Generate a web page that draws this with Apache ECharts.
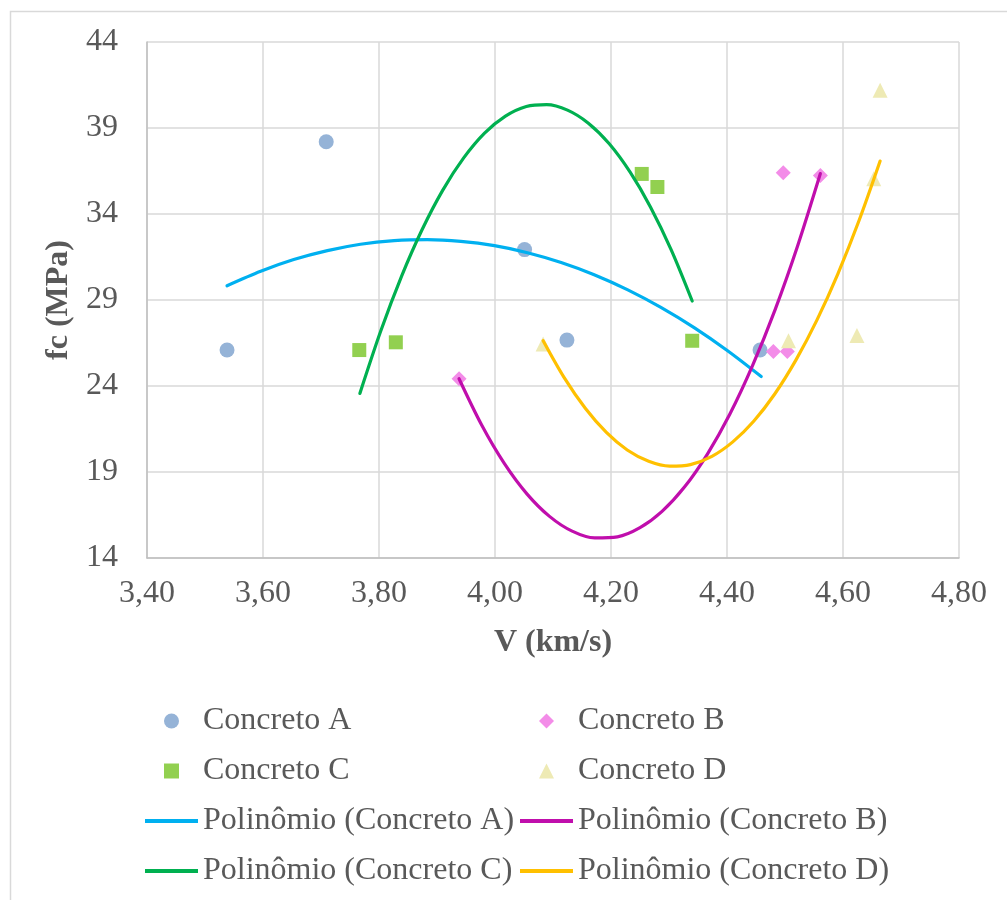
<!DOCTYPE html>
<html>
<head>
<meta charset="utf-8">
<script src="https://cdn.jsdelivr.net/npm/echarts@6/dist/echarts.min.js"></script>
<style>
html,body{margin:0;padding:0;background:#fff;}
#chart{width:1007px;height:900px;}
</style>
</head>
<body>
<div id="chart"></div>
<script>
// ---- Data ----
const xAxisTicks = [3.40, 3.60, 3.80, 4.00, 4.20, 4.40, 4.60, 4.80];
const yAxisTicks = [14, 19, 24, 29, 34, 39, 44];

const concretoA_V  = [3.538, 3.709, 4.051, 4.124, 4.457];
const concretoA_fc = [26.09, 38.20, 31.93, 26.67, 26.09];

const concretoB_V  = [3.938, 4.480, 4.497, 4.504, 4.561];
const concretoB_fc = [24.42, 26.01, 36.40, 26.01, 36.24];

const concretoC_V  = [3.766, 3.829, 4.253, 4.280, 4.340];
const concretoC_fc = [26.09, 26.54, 36.33, 35.57, 26.63];

const concretoD_V  = [4.083, 4.506, 4.624, 4.653, 4.664];
const concretoD_fc = [26.44, 26.63, 26.94, 36.05, 41.19];

// Trend lines
const polyA_V  = [3.538, 3.596, 3.653, 3.711, 3.768, 3.826, 3.883, 3.941, 3.999,
                  4.056, 4.114, 4.171, 4.229, 4.286, 4.344, 4.401, 4.459];
const polyA_fc = [29.83, 30.67, 31.35, 31.87, 32.24, 32.45, 32.51, 32.41, 32.16,
                  31.75, 31.18, 30.47, 29.59, 28.57, 27.38, 26.05, 24.55];

const polyB_V  = [3.938, 3.977, 4.016, 4.055, 4.094, 4.133, 4.172, 4.211, 4.250,
                  4.288, 4.327, 4.366, 4.405, 4.444, 4.483, 4.522, 4.561];
const polyB_fc = [24.42, 21.73, 19.50, 17.73, 16.42, 15.56, 15.17, 15.23, 15.76,
                  16.71, 18.14, 20.03, 22.37, 25.18, 28.44, 32.17, 36.35];

const polyC_V  = [3.767, 3.803, 3.839, 3.874, 3.910, 3.946, 3.982, 4.018, 4.054,
                  4.089, 4.125, 4.161, 4.197, 4.233, 4.268, 4.304, 4.340];
const polyC_fc = [23.57, 27.20, 30.39, 33.07, 35.39, 37.26, 38.70, 39.69, 40.25,
                  40.36, 40.04, 39.28, 38.08, 36.43, 34.41, 31.90, 28.94];

const polyD_V  = [4.083, 4.119, 4.156, 4.192, 4.228, 4.265, 4.301, 4.337, 4.374,
                  4.410, 4.446, 4.482, 4.519, 4.555, 4.591, 4.628, 4.664];
const polyD_fc = [26.63, 24.50, 22.69, 21.30, 20.28, 19.62, 19.34, 19.43, 19.91,
                  20.75, 21.95, 23.52, 25.52, 27.83, 30.51, 33.65, 37.08];

const names = {
  A: 'Concreto A', B: 'Concreto B', C: 'Concreto C', D: 'Concreto D',
  pA: 'Polinômio (Concreto A)', pB: 'Polinômio (Concreto B)',
  pC: 'Polinômio (Concreto C)', pD: 'Polinômio (Concreto D)'
};

// ---- Build ----
const zip = (xs, ys) => xs.map((x, i) => [x, ys[i]]);
const FONT = 'Liberation Serif, Times New Roman, serif';
const TXT = '#595959';

function scatter(name, xs, ys, symbol, size, color) {
  return { name, type: 'scatter', data: zip(xs, ys), symbol, symbolSize: size,
           itemStyle: { color, opacity: 1 }, z: 2 };
}
function trend(name, xs, ys, color) {
  return { name, type: 'line', data: zip(xs, ys), smooth: 0.3,
           symbol: 'none', showSymbol: false,
           lineStyle: { color, width: 3.2, cap: 'round', join: 'round' }, itemStyle: { color }, z: 3 };
}

const legendText = { fontFamily: FONT, fontSize: 32, color: TXT, lineHeight: 32 };
const scatterLegendText = Object.assign({}, legendText, { padding: [0, 0, 0, 19] });

const chart = echarts.init(document.getElementById('chart'), null, { renderer: 'canvas' });
chart.setOption({
  animation: false,
  backgroundColor: '#fff',
  graphic: [{
    type: 'rect', silent: true, z: -10,
    shape: { x: 10.5, y: 11.5, width: 1010, height: 900 },
    style: { fill: 'none', stroke: '#D9D9D9', lineWidth: 1.5 }
  }],
  grid: { left: 147, right: 48, top: 42, bottom: 342, containLabel: false },
  xAxis: {
    type: 'value', min: xAxisTicks[0], max: xAxisTicks[xAxisTicks.length - 1], interval: 0.2,
    name: 'V (km/s)', nameLocation: 'middle', nameGap: 69,
    nameTextStyle: { fontFamily: FONT, fontSize: 32, fontWeight: 'bold', color: TXT },
    axisLine: { show: true, onZero: false, lineStyle: { color: '#BFBFBF', width: 1.5 } },
    axisTick: { show: false },
    splitLine: { show: true, lineStyle: { color: '#D9D9D9', width: 1.5 } },
    axisLabel: { fontFamily: FONT, fontSize: 32, color: TXT, margin: 20,
      formatter: v => v.toFixed(2).replace('.', ',') }
  },
  yAxis: {
    type: 'value', min: yAxisTicks[0], max: yAxisTicks[yAxisTicks.length - 1], interval: 5,
    name: 'fc (MPa)', nameLocation: 'middle', nameGap: 55, nameRotate: 90,
    nameTextStyle: { fontFamily: FONT, fontSize: 32, fontWeight: 'bold', color: TXT },
    axisLine: { show: true, onZero: false, lineStyle: { color: '#BFBFBF', width: 1.5 } },
    axisTick: { show: false },
    splitLine: { show: true, lineStyle: { color: '#D9D9D9', width: 1.5 } },
    axisLabel: { fontFamily: FONT, fontSize: 32, color: TXT, margin: 29 }
  },
  legend: [
    { orient: 'vertical', left: 164, top: 705, padding: 0, itemWidth: 15, itemHeight: 15, itemGap: 18,
      data: [names.A, names.C], textStyle: scatterLegendText },
    { orient: 'vertical', left: 539, top: 705, padding: 0, itemWidth: 15, itemHeight: 15, itemGap: 18,
      data: [names.B, names.D], textStyle: scatterLegendText },
    { orient: 'vertical', left: 145, top: 805, padding: 0, itemWidth: 53, itemHeight: 4, itemGap: 18,
      icon: 'rect', data: [names.pA, names.pC], textStyle: legendText },
    { orient: 'vertical', left: 520, top: 805, padding: 0, itemWidth: 53, itemHeight: 4, itemGap: 18,
      icon: 'rect', data: [names.pB, names.pD], textStyle: legendText }
  ],
  series: [
    scatter(names.A, concretoA_V, concretoA_fc, 'circle', 15, '#95B3D7'),
    scatter(names.B, concretoB_V, concretoB_fc, 'diamond', 15, '#F38CE8'),
    scatter(names.C, concretoC_V, concretoC_fc, 'rect', 14, '#92D050'),
    scatter(names.D, concretoD_V, concretoD_fc, 'triangle', 15, '#EEEAB4'),
    trend(names.pA, polyA_V, polyA_fc, '#00B0F0'),
    trend(names.pB, polyB_V, polyB_fc, '#C00EAC'),
    trend(names.pC, polyC_V, polyC_fc, '#00B050'),
    trend(names.pD, polyD_V, polyD_fc, '#FFC000')
  ]
});
</script>
</body>
</html>
